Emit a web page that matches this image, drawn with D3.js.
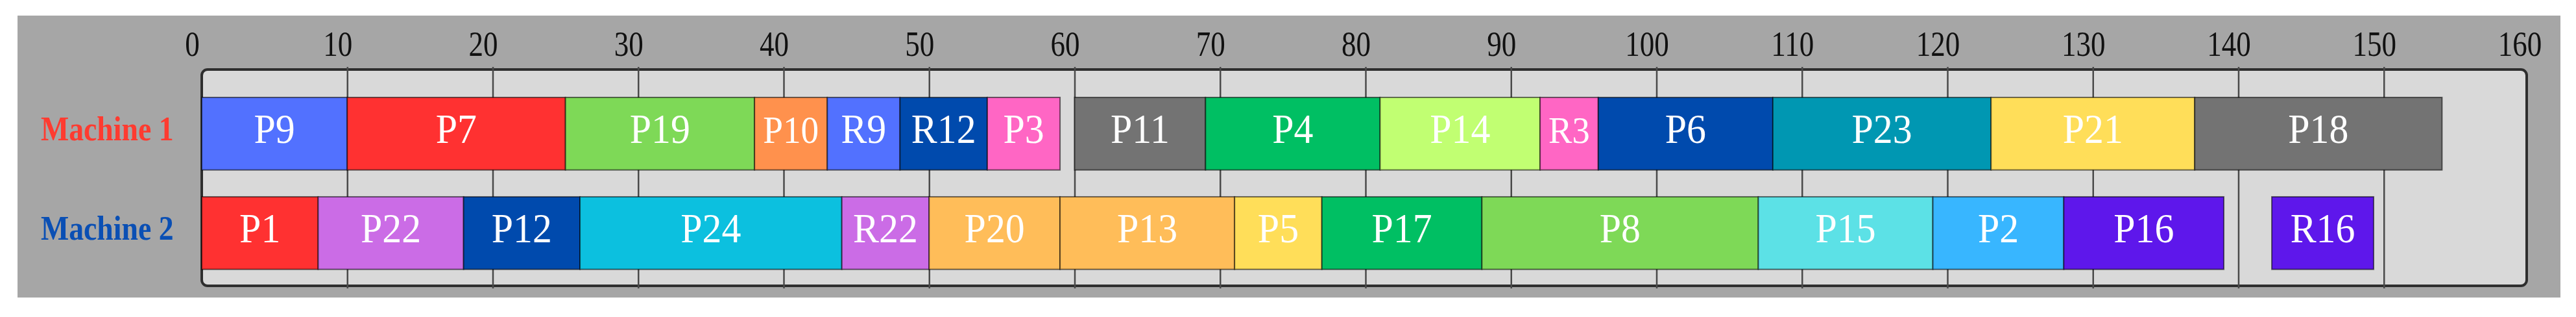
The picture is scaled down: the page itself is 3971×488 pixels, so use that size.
<!DOCTYPE html>
<html>
<head>
<meta charset="utf-8">
<script src="https://cdn.jsdelivr.net/npm/d3@7"></script>
<style>
  body { margin: 0; background: #fff; }
  svg { display: block; }
</style>
</head>
<body>
<div id="chart"></div>
<script>
// data
const machines = ["Machine 1", "Machine 2"];
const xTicks = [0, 10, 20, 30, 40, 50, 60, 70, 80, 90, 100, 110, 120, 130, 140, 150, 160];

const m1Jobs  = ["P9", "P7", "P19", "P10", "R9", "R12", "P3", "P11", "P4", "P14", "R3", "P6", "P23", "P21", "P18"];
const m1Start = [0, 10, 25, 38, 43, 48, 54, 60, 69, 81, 92, 96, 108, 123, 137];
const m1End   = [10, 25, 38, 43, 48, 54, 59, 69, 81, 92, 96, 108, 123, 137, 154];

const m2Jobs  = ["P1", "P22", "P12", "P24", "R22", "P20", "P13", "P5", "P17", "P8", "P15", "P2", "P16", "R16"];
const m2Start = [0, 8, 18, 26, 44, 50, 59, 71, 77, 88, 107, 119, 128, 142.3];
const m2End   = [8, 18, 26, 44, 50, 59, 71, 77, 88, 107, 119, 128, 139, 149.3];

// colour per job number (P and R of the same job share it)
const jobNums = [1, 2, 3, 4, 5, 6, 7, 8, 9, 10, 11, 12, 13, 14, 15, 16, 17, 18, 19, 20, 21, 22, 23, 24];
const jobColors = ["#ff3131", "#38b6ff", "#ff66c4", "#00bf63", "#ffde59", "#004aad", "#ff3131", "#7ed957",
  "#5271ff", "#ff914d", "#737373", "#004aad", "#ffbd59", "#c1ff72", "#5ce1e6", "#5e17eb",
  "#00bf63", "#737373", "#7ed957", "#ffbd59", "#ffde59", "#cb6ce6", "#0097b2", "#0cc0df"];
const machineColors = ["#ff3b30", "#0a4fb4"];

const w = 3971;
const h = 488;

const tasks = [];
m1Jobs.forEach((j, i) => tasks.push({machine: machines[0], job: j, start: m1Start[i], end: m1End[i]}));
m2Jobs.forEach((j, i) => tasks.push({machine: machines[1], job: j, start: m2Start[i], end: m2End[i]}));

const color = d3.scaleOrdinal().domain(jobNums).range(jobColors);

const xScale = d3.scaleLinear().domain([0, 160]).range([311, 3899]);
const yScale = d3.scaleBand().domain(machines).range([127, 437.6])
  .paddingInner(0.27).paddingOuter(0.15);

const svg = d3.select("#chart").append("svg")
  .attr("width", w).attr("height", h)
  .attr("viewBox", `0 0 ${w} ${h}`);

// grey panel
svg.append("rect")
  .attr("x", 27).attr("y", 24)
  .attr("width", 3947 - 27).attr("height", 458 - 24)
  .attr("fill", "#a6a6a6");

// plot frame
svg.append("rect")
  .attr("x", xScale(0)).attr("y", 107)
  .attr("width", xScale(160) - 4 - xScale(0)).attr("height", 440 - 107)
  .attr("rx", 9).attr("ry", 9)
  .attr("fill", "#d9d9d9")
  .attr("stroke", "#2e2e2e")
  .attr("stroke-width", 4);

// grid lines
const grid = d3.axisBottom(xScale)
  .tickValues(xTicks.filter(t => t > 0 && t < 160))
  .tickSize(341)
  .tickFormat("");
svg.append("g")
  .attr("transform", "translate(0,103)")
  .call(grid)
  .call(g => g.select(".domain").remove())
  .selectAll("line")
  .attr("stroke", "#4a4a4a")
  .attr("stroke-width", 2.5);

// top tick labels
const xAxis = d3.axisTop(xScale).tickValues(xTicks).tickSize(0).tickPadding(0);
svg.append("g")
  .attr("transform", "translate(0,86)")
  .call(xAxis)
  .call(g => g.select(".domain").remove())
  .selectAll("text")
  .attr("fill", "#111")
  .style("font-family", "'Liberation Serif', 'Times New Roman', serif")
  .style("font-size", "55px")
  .attr("transform", "translate(-15,0) scale(0.82,1)");

// bars
const bars = svg.append("g").selectAll("g.task")
  .data(tasks)
  .enter()
  .append("g")
  .attr("class", "task");

bars.append("rect")
  .attr("x", d => xScale(d.start))
  .attr("y", d => yScale(d.machine))
  .attr("width", d => xScale(d.end) - xScale(d.start))
  .attr("height", yScale.bandwidth())
  .attr("fill", d => color(+d.job.slice(1)))
  .attr("stroke", "rgba(0,0,0,0.55)")
  .attr("stroke-width", 2);

bars.append("text")
  .attr("transform", d => `translate(${(xScale(d.start) + xScale(d.end)) / 2},${yScale(d.machine) + yScale.bandwidth() / 2 + 14}) scale(0.95,1)`)
  .attr("text-anchor", "middle")
  .attr("fill", "#fff")
  .style("font-family", "'Liberation Serif', 'Times New Roman', serif")
  .style("font-size", "63px")
  .text(d => d.job)
  .each(function(d) {
    // shrink label when bar is narrow
    const avail = (xScale(d.end) - xScale(d.start) - 26) / 0.95;
    const len = this.getComputedTextLength();
    if (len > avail) d3.select(this).style("font-size", (63 * avail / len) + "px");
  });

// machine labels
svg.append("g").selectAll("text")
  .data(machines)
  .enter()
  .append("text")
  .attr("transform", d => `translate(63,${yScale(d) + yScale.bandwidth() / 2 + 10}) scale(0.88,1)`)
  .attr("fill", (d, i) => machineColors[i])
  .style("font-family", "'Liberation Serif', 'Times New Roman', serif")
  .style("font-size", "52px")
  .style("font-weight", "bold")
  .text(d => d);
</script>
</body>
</html>
